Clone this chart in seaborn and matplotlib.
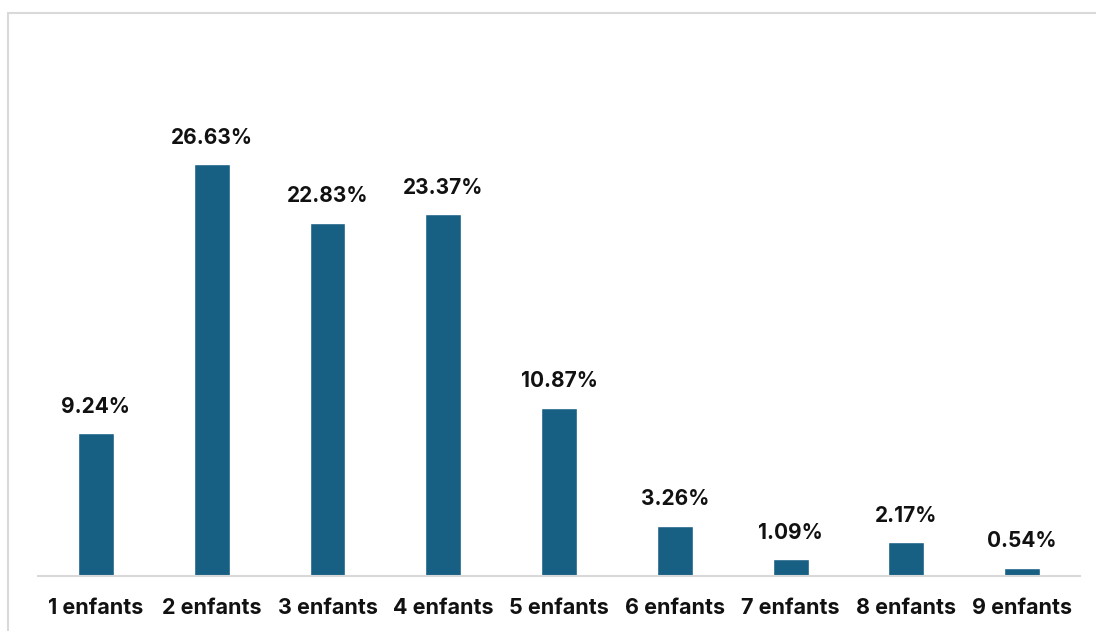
import pandas as pd
import seaborn as sns
import matplotlib.pyplot as plt
from matplotlib.patches import Rectangle

# Data
categories = ['1 enfants', '2 enfants', '3 enfants', '4 enfants', '5 enfants',
              '6 enfants', '7 enfants', '8 enfants', '9 enfants']
percentages = [9.24, 26.63, 22.83, 23.37, 10.87, 3.26, 1.09, 2.17, 0.54]

df = pd.DataFrame({'Enfants': categories, 'Pourcentage': percentages})

sns.set_style('white')
plt.rcParams['font.family'] = ['Inter', 'DejaVu Sans']

fig = plt.figure(figsize=(10.96, 6.31), dpi=100)
ax = fig.add_axes([0.0347, 0.0872, 0.9507, 0.818])

sns.barplot(data=df, x='Enfants', y='Pourcentage', color='#185F84',
            width=0.31, saturation=1, ax=ax)

# Value labels
for i, v in enumerate(percentages):
    ax.text(i, v + 1.05, f'{v:.2f}%', ha='center', va='bottom',
            fontsize=15, fontweight='bold', color='#111111')

ax.set_xlim(-0.5, 8.5)
ax.set_ylim(0, 33.35)
ax.set_xlabel('')
ax.set_ylabel('')
ax.set_yticks([])
ax.tick_params(axis='x', length=0, pad=16)
for lbl in ax.get_xticklabels():
    lbl.set_fontsize(15.5)
    lbl.set_fontweight('bold')
    lbl.set_color('#111111')

for side in ['top', 'right', 'left']:
    ax.spines[side].set_visible(False)
ax.spines['bottom'].set_color('#D9D9D9')
ax.spines['bottom'].set_linewidth(1.5)

# Chart area border (top and left visible)
fig.patches.append(Rectangle((8 / 1096, -0.1), 1.2, 1.1 - 13 / 631,
                             transform=fig.transFigure, fill=False,
                             edgecolor='#D9D9D9', linewidth=1.5))

fig.savefig('out.png', dpi=100)
